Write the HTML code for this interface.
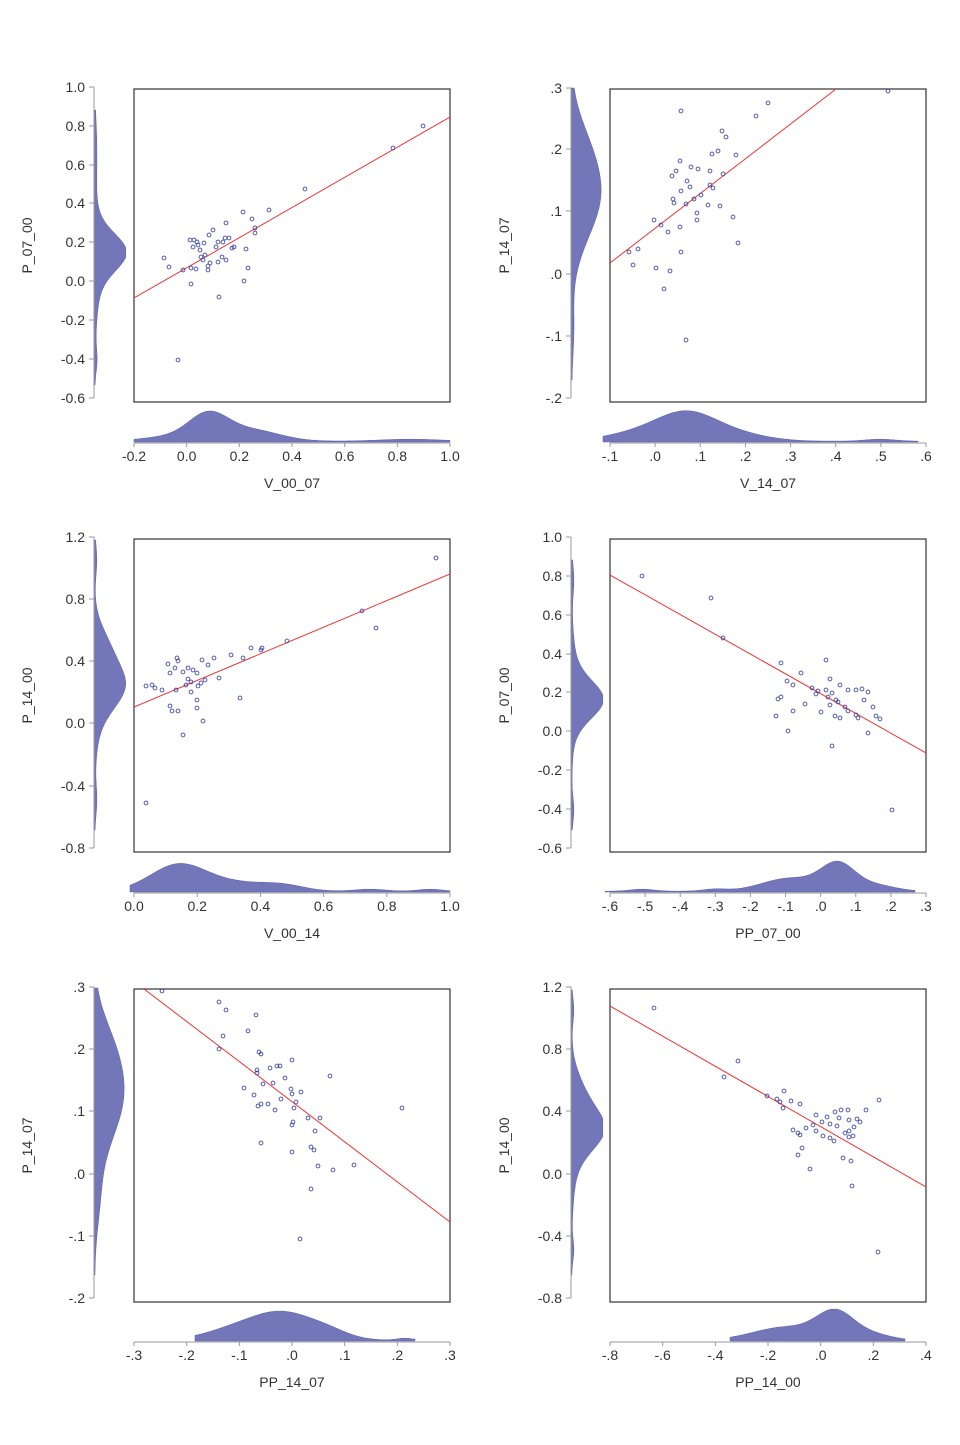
<!DOCTYPE html>
<html><head><meta charset="utf-8"><style>
body{margin:0;background:#fff}
svg text{font-family:"Liberation Sans",Arial,sans-serif;font-size:14px;fill:#333}
</style></head><body>
<svg id="s" width="960" height="1440" xmlns="http://www.w3.org/2000/svg"></svg>
<script>
const S=document.getElementById('s');let h='';
const P=[
{bx:134,by:89,lx:94,bb:442,yt:'P_07_00',xt:'V_00_07',
 yl:[['1.0',87],['0.8',126],['0.6',165],['0.4',203],['0.2',242],['0.0',281],['-0.2',320],['-0.4',359],['-0.6',398]],
 xl:['-0.2','0.0','0.2','0.4','0.6','0.8','1.0'],
 ld:[[252,18,26],[262,40,6],[150,30,2],[360,12,2]],lr:[110,385],
 bd:[[208,20,26],[252,28,11],[165,25,4],[410,30,2]],br:[134,450],
 line:[134,298,450,117],
 pts:[[423,126],[393,148],[305,189],[269,210],[243,212],[252,219],[226,223],[213,230],[255,228],[255,233],[209,235],[190,240],[194,240],[197,242],[204,243],[229,238],[225,238],[218,242],[223,242],[198,245],[193,247],[216,247],[234,247],[232,248],[246,249],[200,250],[205,255],[201,257],[222,257],[164,258],[203,260],[226,260],[218,262],[210,263],[208,266],[169,267],[248,268],[191,268],[196,269],[208,270],[183,270],[244,281],[191,284],[219,297],[178,360]]},
{bx:610,by:89,lx:571,bb:442,yt:'P_14_07',xt:'V_14_07',
 yl:[['.3',88],['.2',149],['.1',211],['.0',274],['-.1',336],['-.2',398]],
 xl:['-.1','.0','.1','.2','.3','.4','.5','.6'],
 ld:[[195,42,28],[140,30,6],[330,25,2]],lr:[88,380],
 bd:[[688,30,26],[640,35,8],[740,30,6],[880,15,2]],br:[603,918],
 line:[610,263,836,89],
 pts:[[888,91],[768,103],[756,116],[681,111],[722,131],[726,137],[718,151],[736,155],[712,154],[680,161],[691,167],[676,171],[672,176],[698,169],[723,174],[710,171],[687,181],[713,188],[690,187],[681,191],[701,195],[710,185],[673,199],[674,203],[694,199],[686,204],[708,205],[720,206],[697,213],[697,220],[733,217],[654,220],[661,225],[680,227],[668,232],[638,249],[629,252],[681,252],[633,265],[656,268],[670,271],[738,243],[664,289],[686,340]]},
{bx:134,by:539,lx:94,bb:892,yt:'P_14_00',xt:'V_00_14',
 yl:[['1.2',537],['0.8',599],['0.4',661],['0.0',723],['-0.4',786],['-0.8',848]],
 xl:['0.0','0.2','0.4','0.6','0.8','1.0'],
 ld:[[685,22,24],[645,20,10],[700,35,6],[560,15,2],[800,15,2]],lr:[540,830],
 bd:[[178,28,26],[240,35,8],[285,20,4],[370,15,2],[430,12,2]],br:[130,450],
 line:[134,707,450,574],
 pts:[[436,558],[362,611],[376,628],[287,641],[262,648],[261,650],[251,648],[243,658],[231,655],[214,658],[202,660],[177,658],[178,661],[168,664],[175,668],[188,668],[183,672],[193,670],[208,665],[170,673],[197,673],[188,679],[205,680],[201,683],[191,682],[186,685],[198,686],[219,678],[176,690],[162,690],[146,686],[152,685],[155,688],[191,692],[197,700],[170,706],[172,711],[178,711],[240,698],[197,708],[203,721],[183,735],[146,803]]},
{bx:610,by:539,lx:571,bb:892,yt:'P_07_00',xt:'PP_07_00',
 yl:[['1.0',537],['0.8',576],['0.6',615],['0.4',654],['0.2',692],['0.0',731],['-0.2',770],['-0.4',809],['-0.6',848]],
 xl:['-.6','-.5','-.4','-.3','-.2','-.1','.0','.1','.2','.3'],
 ld:[[700,18,26],[690,35,6],[580,15,2],[810,12,2]],lr:[560,830],
 bd:[[838,17,26],[790,28,13],[875,20,6],[642,12,2],[715,12,2]],br:[605,915],
 line:[610,575,926,753],
 pts:[[642,576],[711,598],[723,638],[826,660],[781,663],[801,673],[787,681],[793,685],[818,691],[830,679],[840,685],[812,688],[826,690],[832,693],[816,694],[828,697],[836,700],[848,690],[856,690],[862,689],[868,692],[864,700],[873,707],[838,702],[845,707],[781,697],[778,699],[830,705],[848,711],[856,715],[876,716],[880,719],[776,716],[793,711],[821,712],[835,716],[858,718],[788,731],[868,733],[832,746],[892,810],[805,704],[840,718]]},
{bx:134,by:989,lx:94,bb:1341,yt:'P_14_07',xt:'PP_14_07',
 yl:[['.3',987],['.2',1049],['.1',1111],['.0',1174],['-.1',1236],['-.2',1298]],
 xl:['-.3','-.2','-.1','.0','.1','.2','.3'],
 ld:[[1095,45,28],[1040,30,6],[1200,30,4]],lr:[988,1275],
 bd:[[283,33,27],[230,30,8],[330,20,5],[405,8,2]],br:[195,415],
 line:[144,989,450,1222],
 pts:[[162,991],[219,1002],[226,1010],[256,1015],[248,1031],[223,1036],[219,1049],[259,1052],[261,1054],[277,1066],[270,1068],[292,1060],[280,1066],[257,1070],[257,1073],[285,1078],[263,1084],[273,1083],[244,1088],[330,1076],[291,1089],[301,1092],[254,1095],[292,1094],[281,1099],[296,1102],[261,1104],[258,1106],[268,1104],[294,1108],[275,1110],[320,1118],[402,1108],[308,1118],[293,1122],[292,1125],[315,1131],[261,1143],[311,1147],[292,1152],[314,1150],[318,1166],[354,1165],[333,1170],[311,1189],[300,1239]]},
{bx:610,by:989,lx:571,bb:1341,yt:'P_14_00',xt:'PP_14_00',
 yl:[['1.2',987],['0.8',1049],['0.4',1111],['0.0',1174],['-0.4',1236],['-0.8',1298]],
 xl:['-.8','-.6','-.4','-.2','.0','.2','.4'],
 ld:[[1130,20,26],[1095,22,10],[1150,35,5],[1250,10,2],[1010,12,2]],lr:[990,1275],
 bd:[[836,19,27],[785,32,13],[875,18,5]],br:[730,905],
 line:[610,1006,926,1187],
 pts:[[654,1008],[738,1061],[724,1077],[784,1091],[767,1096],[777,1099],[780,1102],[791,1101],[800,1104],[783,1108],[816,1115],[835,1112],[841,1110],[848,1110],[866,1110],[879,1100],[827,1117],[839,1118],[822,1122],[813,1125],[830,1124],[837,1126],[849,1120],[857,1119],[860,1122],[854,1127],[806,1128],[816,1131],[849,1131],[793,1130],[845,1133],[849,1137],[798,1133],[800,1135],[823,1136],[853,1136],[830,1138],[834,1141],[802,1148],[798,1155],[843,1158],[851,1161],[810,1169],[852,1186],[878,1252]]}
];
function g(t,arr){let v=0;for(const [c,s,a] of arr)v+=a*Math.exp(-0.5*((t-c)/s)**2);return Math.min(v,31);}
for(const p of P){
 const W=316,H=313;
 let d=`M${p.lx},${p.lr[0]}`;
 for(let y=p.lr[0];y<=p.lr[1];y++)d+=` L${(p.lx+0.8+g(y,p.ld)).toFixed(1)},${y}`;
 d+=` L${p.lx},${p.lr[1]} Z`;
 h+=`<path d="${d}" fill="#7377ba" stroke="#5a5fa8" stroke-width="0.5"/>`;
 d=`M${p.br[0]},${p.bb}`;
 for(let x=p.br[0];x<=p.br[1];x++)d+=` L${x},${(p.bb-0.8-g(x,p.bd)).toFixed(1)}`;
 d+=` L${p.br[1]},${p.bb} Z`;
 h+=`<path d="${d}" fill="#7377ba" stroke="#5a5fa8" stroke-width="0.5"/>`;
 const y0=p.yl[0][1],y1=p.yl[p.yl.length-1][1];
 h+=`<line x1="${p.lx}" y1="${y0}" x2="${p.lx}" y2="${y1}" stroke="#999" stroke-width="1"/>`;
 for(const [t,y] of p.yl){h+=`<line x1="${p.lx-5}" y1="${y}" x2="${p.lx}" y2="${y}" stroke="#999"/><text x="${p.lx-9}" y="${y+5}" text-anchor="end">${t}</text>`;}
 h+=`<line x1="${p.bx}" y1="${p.bb+1}" x2="${p.bx+W}" y2="${p.bb+1}" stroke="#999"/>`;
 const n=p.xl.length;
 p.xl.forEach((t,i)=>{const x=p.bx+W*i/(n-1);h+=`<line x1="${x}" y1="${p.bb+1}" x2="${x}" y2="${p.bb+5}" stroke="#999"/><text x="${x}" y="${p.bb+19}" text-anchor="middle">${t}</text>`;});
 h+=`<text x="${p.bx+W/2}" y="${p.bb+46}" text-anchor="middle">${p.xt}</text>`;
 const cy=(p.by+H/2);const tx=p.lx-62;
 h+=`<text transform="translate(${tx},${cy}) rotate(-90)" text-anchor="middle">${p.yt}</text>`;
 h+=`<rect x="${p.bx}" y="${p.by}" width="${W}" height="${H}" fill="#fff" stroke="#333" stroke-width="1.2"/>`;
 h+=`<svg x="${p.bx}" y="${p.by}" width="${W}" height="${H}" overflow="hidden"><line x1="${p.line[0]-p.bx}" y1="${p.line[1]-p.by}" x2="${p.line[2]-p.bx}" y2="${p.line[3]-p.by}" stroke="#ee3333" stroke-width="1"/>`;
 for(const [x,y] of p.pts)h+=`<circle cx="${x-p.bx}" cy="${y-p.by}" r="1.9" fill="none" stroke="#3a44a8" stroke-width="0.9"/>`;
 h+=`</svg>`;
}
S.innerHTML=h;
</script>
</body></html>
